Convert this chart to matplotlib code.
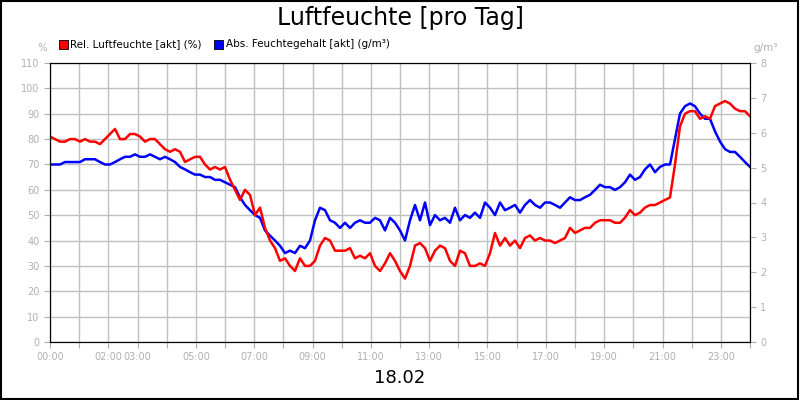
import numpy as np
import matplotlib
matplotlib.use("Agg")
import matplotlib.pyplot as plt
from matplotlib.patches import Rectangle

# Messwerte ~alle 10 min (141 Stück über 24 h)
rel = [81, 80, 79, 79, 80, 80, 79, 80, 79, 79, 78, 80, 82, 84, 80, 80, 82, 82, 81, 79,
       80, 80, 78, 76, 75, 76, 75, 71, 72, 73, 73, 70, 68, 69, 68, 69, 64, 60, 56, 60,
       58, 50, 53, 45, 40, 37, 32, 33, 30, 28, 33, 30, 30, 32, 38, 41, 40, 36, 36, 36,
       37, 33, 34, 33, 35, 30, 28, 31, 35, 32, 28, 25, 30, 38, 39, 37, 32, 36, 38, 37,
       32, 30, 36, 35, 30, 30, 31, 30, 35, 43, 38, 41, 38, 40, 37, 41, 42, 40, 41, 40,
       40, 39, 40, 41, 45, 43, 44, 45, 45, 47, 48, 48, 48, 47, 47, 49, 52, 50, 51, 53,
       54, 54, 55, 56, 57, 70, 85, 90, 91, 91, 88, 89, 88, 93, 94, 95, 94, 92, 91, 91, 89]
absf = [5.09, 5.09, 5.09, 5.16, 5.16, 5.16, 5.16, 5.24, 5.24, 5.24, 5.16, 5.09, 5.09, 5.16,
        5.24, 5.31, 5.31, 5.38, 5.31, 5.31, 5.38, 5.31, 5.24, 5.31, 5.24, 5.16, 5.02, 4.95,
        4.87, 4.80, 4.80, 4.73, 4.73, 4.65, 4.65, 4.58, 4.51, 4.44, 4.15, 3.93, 3.78, 3.64,
        3.56, 3.20, 3.05, 2.91, 2.76, 2.55, 2.62, 2.55, 2.76, 2.69, 2.91, 3.49, 3.85, 3.78,
        3.49, 3.42, 3.27, 3.42, 3.27, 3.42, 3.49, 3.42, 3.42, 3.56, 3.49, 3.20, 3.56, 3.42,
        3.20, 2.91, 3.49, 3.93, 3.49, 4.00, 3.35, 3.64, 3.49, 3.56, 3.42, 3.85, 3.49, 3.64,
        3.56, 3.71, 3.56, 4.00, 3.85, 3.64, 4.00, 3.78, 3.85, 3.93, 3.71, 3.93, 4.07, 3.93,
        3.85, 4.00, 4.00, 3.93, 3.85, 4.00, 4.15, 4.07, 4.07, 4.15, 4.22, 4.36, 4.51, 4.44,
        4.44, 4.36, 4.44, 4.58, 4.80, 4.65, 4.73, 4.95, 5.09, 4.87, 5.02, 5.09, 5.09, 5.82,
        6.55, 6.76, 6.84, 6.76, 6.55, 6.40, 6.40, 6.04, 5.75, 5.53, 5.45, 5.45, 5.31, 5.16, 5.02]
hours = np.linspace(0, 24, len(rel))
tick_labels = {0: "00:00", 2: "02:00", 3: "03:00", 5: "05:00", 7: "07:00", 9: "09:00",
               11: "11:00", 13: "13:00", 15: "15:00", 17: "17:00", 19: "19:00",
               21: "21:00", 23: "23:00"}

GREY = "#b0b0b0"
fig = plt.figure(figsize=(8, 4), dpi=100)
fig.patches.append(Rectangle((0.001, 0.002), 0.997, 0.996, transform=fig.transFigure,
                             fill=False, ec="black", lw=1.5))
ax = fig.add_axes([0.0625, 0.145, 0.875, 0.6975])
ax2 = ax.twinx()

ax.set_xlim(0, 24)
ax.set_ylim(0, 110)
ax2.set_ylim(0, 8)

# beide Kurven auf der oberen Achse, damit das Gitter darunter liegt
ax2.plot(hours, absf, color="#0000ff", lw=1.8)
ax2.plot(hours, rel, color="#ff0000", lw=1.8, transform=ax.transData)

ax.set_xticks(range(25))
ax.set_xticklabels([tick_labels.get(h, "") for h in range(25)])
ax.set_yticks(range(0, 111, 10))
ax2.set_yticks(range(9))
ax.grid(True, color="#c0c0c0", lw=1)
for a in (ax, ax2):
    a.tick_params(colors=GREY, labelcolor=GREY, labelsize=7, length=4)
    for s in a.spines.values():
        s.set_color("black")

fig.text(0.5, 0.955, "Luftfeuchte [pro Tag]", ha="center", va="center", fontsize=17)
fig.text(0.5, 0.055, "18.02", ha="center", va="center", fontsize=13)
fig.text(0.053, 0.88, "%", ha="center", va="center", fontsize=7.5, color=GREY)
fig.text(0.957, 0.88, "g/m³", ha="center", va="center", fontsize=7.5, color=GREY)

fig.patches.append(Rectangle((0.074, 0.878), 0.011, 0.022, transform=fig.transFigure,
                             fc="#ff0000", ec="black", lw=0.6))
fig.text(0.088, 0.889, "Rel. Luftfeuchte [akt] (%)", va="center", fontsize=7.5)
fig.patches.append(Rectangle((0.268, 0.878), 0.011, 0.022, transform=fig.transFigure,
                             fc="#0000ff", ec="black", lw=0.6))
fig.text(0.282, 0.889, "Abs. Feuchtegehalt [akt] (g/m³)", va="center", fontsize=7.5)

fig.savefig("out.png", dpi=100)
